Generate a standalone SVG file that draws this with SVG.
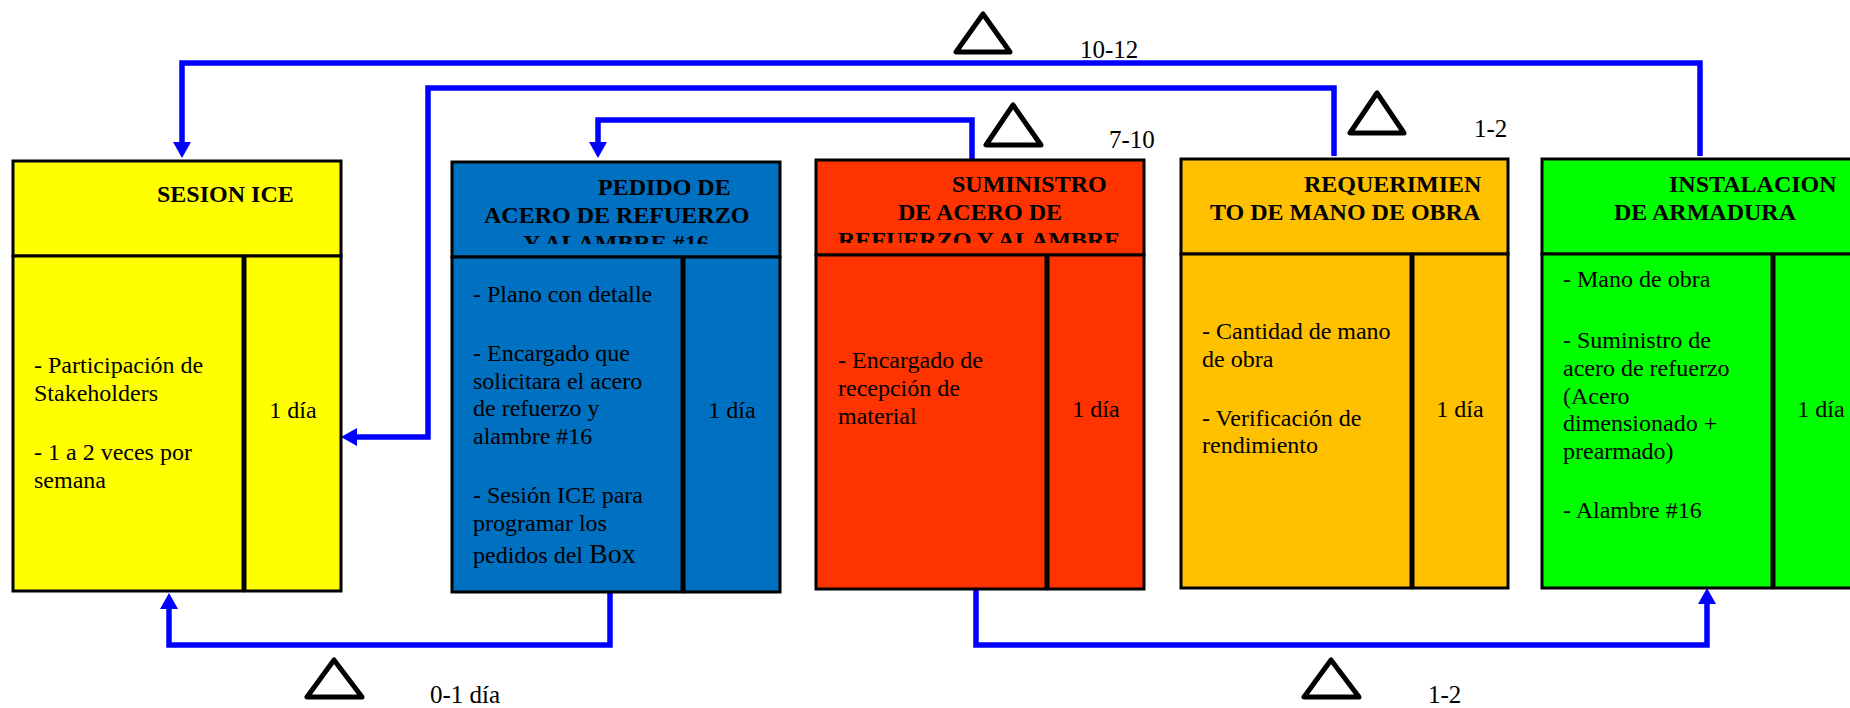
<svg xmlns="http://www.w3.org/2000/svg" width="1850" height="708" viewBox="0 0 1850 708">
<style>
  .box { stroke: #000; stroke-width: 3; }
  .yel { fill: #FFFF00; }
  .blu { fill: #0070C0; }
  .red { fill: #FF3300; }
  .ora { fill: #FFC000; }
  .grn { fill: #00FF00; }
  .hd { font-family: "Liberation Serif", "Times New Roman", serif; font-size: 24px; font-weight: bold; fill: #000; }
  .tx { font-family: "Liberation Serif", "Times New Roman", serif; font-size: 24px; fill: #000; }
  .dur { font-family: "Liberation Serif", "Times New Roman", serif; font-size: 24px; fill: #000; text-anchor: middle; }
  .lbl { font-family: "Liberation Serif", "Times New Roman", serif; font-size: 25px; fill: #000; }
  .conn { fill: none; stroke: #0000FF; stroke-width: 5.5; stroke-linejoin: miter; }
  .tri { fill: #fff; stroke: #000; stroke-width: 5; stroke-linejoin: round; }
</style>
<defs>
  <marker id="ah" viewBox="0 -9 16 18" refX="0" refY="0" markerWidth="16" markerHeight="18" markerUnits="userSpaceOnUse" orient="auto">
    <path d="M0,-9 L16,0 L0,9 z" fill="#0000FF"/>
  </marker>
  <clipPath id="clipBlue"><rect x="452" y="162" width="328" height="82"/></clipPath>
  <clipPath id="clipRed"><rect x="816" y="160" width="328" height="83"/></clipPath>
</defs>

<g id="connectors">
  <path class="conn" d="M1700,156 V63 H182 V142" marker-end="url(#ah)"/>
  <path class="conn" d="M1334,156 V88 H428 V437 H357" marker-end="url(#ah)"/>
  <path class="conn" d="M972,160 V120 H598 V142" marker-end="url(#ah)"/>
  <path class="conn" d="M610,592 V645 H169 V609" marker-end="url(#ah)"/>
  <path class="conn" d="M976,590 V645 H1707 V604" marker-end="url(#ah)"/>
</g>

<g id="deltas">
  <polygon class="tri" points="983,14 956,52 1010,52"/>
  <text class="lbl" x="1080" y="58">10-12</text>
  <polygon class="tri" points="1013,105 986,145 1041,145"/>
  <text class="lbl" x="1109" y="148">7-10</text>
  <polygon class="tri" points="1377,93 1350,133 1404,133"/>
  <text class="lbl" x="1474" y="137">1-2</text>
  <polygon class="tri" points="334,660 307,697 362,697"/>
  <text class="lbl" x="430" y="703">0-1 día</text>
  <polygon class="tri" points="1331,660 1304,697 1359,697"/>
  <text class="lbl" x="1428" y="703">1-2</text>
</g>

<g id="sesion-ice">
  <rect class="box yel" x="13" y="161" width="328" height="95"/>
  <rect class="box yel" x="13" y="256" width="230" height="335"/>
  <rect class="box yel" x="245" y="256" width="96" height="335"/>
  <text class="hd" x="157" y="202">SESION ICE</text>
  <text class="tx" x="34" y="373">- Participación de</text>
  <text class="tx" x="34" y="401">Stakeholders</text>
  <text class="tx" x="34" y="460">- 1 a 2 veces por</text>
  <text class="tx" x="34" y="488">semana</text>
  <text class="dur" x="293" y="418">1 día</text>
</g>

<g id="pedido">
  <rect class="box blu" x="452" y="162" width="328" height="95"/>
  <rect class="box blu" x="452" y="257" width="230" height="335"/>
  <rect class="box blu" x="684" y="257" width="96" height="335"/>
  <g clip-path="url(#clipBlue)">
    <text class="hd" x="598" y="195">PEDIDO DE</text>
    <text class="hd" x="484" y="223">ACERO DE REFUERZO</text>
    <text class="hd" x="523" y="251">Y ALAMBRE #16</text>
  </g>
  <text class="tx" x="473" y="302">- Plano con detalle</text>
  <text class="tx" x="473" y="361">- Encargado que</text>
  <text class="tx" x="473" y="388.5">solicitara el acero</text>
  <text class="tx" x="473" y="416">de refuerzo y</text>
  <text class="tx" x="473" y="443.5">alambre #16</text>
  <text class="tx" x="473" y="503">- Sesión ICE para</text>
  <text class="tx" x="473" y="530.5">programar los</text>
  <text class="tx" x="473" y="563">pedidos del <tspan font-size="28">Box</tspan></text>
  <text class="dur" x="732" y="418">1 día</text>
</g>

<g id="suministro">
  <rect class="box red" x="816" y="160" width="328" height="95"/>
  <rect class="box red" x="816" y="255" width="230" height="334"/>
  <rect class="box red" x="1048" y="255" width="96" height="334"/>
  <g clip-path="url(#clipRed)">
    <text class="hd" x="952" y="192">SUMINISTRO</text>
    <text class="hd" x="898" y="220">DE ACERO DE</text>
    <text class="hd" x="838" y="248">REFUERZO Y ALAMBRE</text>
  </g>
  <text class="tx" x="838" y="368">- Encargado de</text>
  <text class="tx" x="838" y="396">recepción de</text>
  <text class="tx" x="838" y="423.5">material</text>
  <text class="dur" x="1096" y="417">1 día</text>
</g>

<g id="requerimiento">
  <rect class="box ora" x="1181" y="159" width="327" height="95"/>
  <rect class="box ora" x="1181" y="254" width="230" height="334"/>
  <rect class="box ora" x="1413" y="254" width="95" height="334"/>
  <text class="hd" x="1304" y="192">REQUERIMIEN</text>
  <text class="hd" x="1210" y="219.5">TO DE MANO DE OBRA</text>
  <text class="tx" x="1202" y="339">- Cantidad de mano</text>
  <text class="tx" x="1202" y="366.5">de obra</text>
  <text class="tx" x="1202" y="426">- Verificación de</text>
  <text class="tx" x="1202" y="453">rendimiento</text>
  <text class="dur" x="1460" y="417">1 día</text>
</g>

<g id="instalacion">
  <rect class="box grn" x="1542" y="159" width="328" height="95"/>
  <rect class="box grn" x="1542" y="254" width="230" height="334"/>
  <rect class="box grn" x="1774" y="254" width="96" height="334"/>
  <text class="hd" x="1669" y="192">INSTALACION</text>
  <text class="hd" x="1614" y="219.5">DE ARMADURA</text>
  <text class="tx" x="1563" y="287">- Mano de obra</text>
  <text class="tx" x="1563" y="348">- Suministro de</text>
  <text class="tx" x="1563" y="376">acero de refuerzo</text>
  <text class="tx" x="1563" y="403.5">(Acero</text>
  <text class="tx" x="1563" y="431">dimensionado +</text>
  <text class="tx" x="1563" y="458.5">prearmado)</text>
  <text class="tx" x="1563" y="518">- Alambre #16</text>
  <text class="dur" x="1821" y="417">1 día</text>
</g>
</svg>
